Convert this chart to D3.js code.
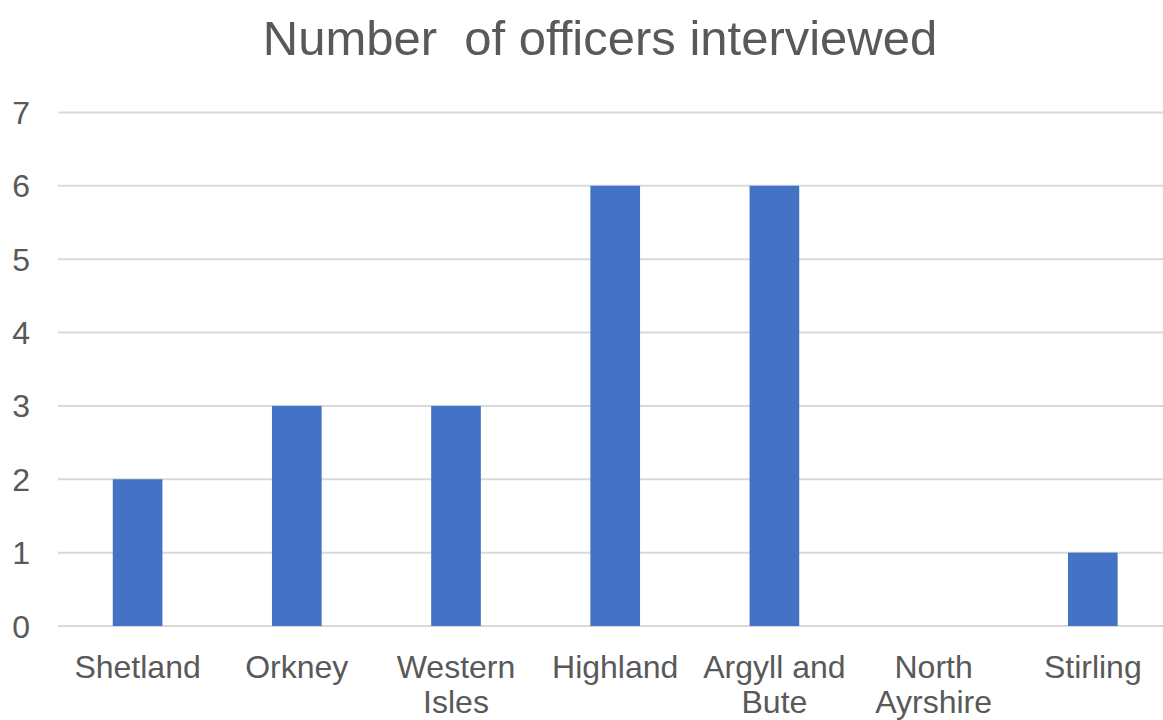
<!DOCTYPE html>
<html>
<head>
<meta charset="utf-8">
<script src="https://cdn.jsdelivr.net/npm/d3@7"></script>
<style>
  html, body { margin: 0; padding: 0; background: #fff; overflow: hidden; }
  svg { display: block; font-family: "Liberation Sans", Arial, sans-serif; }
</style>
</head>
<body>
<svg id="chart" width="1163" height="720"></svg>
<script>
// Officers interviewed per council area
const categories = ["Shetland", "Orkney", "Western Isles", "Highland", "Argyll and Bute", "North Ayrshire", "Stirling"];
const officers = [2, 3, 3, 6, 6, 0, 1];
const yTicks = [0, 1, 2, 3, 4, 5, 6, 7];
const chartTitle = "Number  of officers interviewed";

const svg = d3.select("#chart");
const textColor = "#595959";

const plot = { left: 58, right: 1172.4, top: 112.4, bottom: 626 };

const x = d3.scaleBand()
  .domain(categories)
  .range([plot.left, plot.right])
  .paddingInner(0.688)
  .paddingOuter(0.344);

const y = d3.scaleLinear()
  .domain([0, 7])
  .range([plot.bottom, plot.top]);

// Horizontal gridlines
svg.append("g")
  .selectAll("line")
  .data(yTicks)
  .join("line")
  .attr("x1", plot.left)
  .attr("x2", plot.right)
  .attr("y1", d => y(d))
  .attr("y2", d => y(d))
  .attr("stroke", "#d9d9d9")
  .attr("stroke-width", 2);

// Y tick labels
svg.append("g")
  .selectAll("text")
  .data(yTicks)
  .join("text")
  .attr("x", 30)
  .attr("y", d => y(d) + 11.5)
  .attr("text-anchor", "end")
  .attr("font-size", 32)
  .attr("fill", textColor)
  .text(d => d);

// Bars
svg.append("g")
  .selectAll("rect")
  .data(categories)
  .join("rect")
  .attr("x", d => x(d))
  .attr("width", x.bandwidth())
  .attr("y", (d, i) => y(officers[i]))
  .attr("height", (d, i) => y(0) - y(officers[i]))
  .attr("fill", "#4472c4");

// Category labels, wrapped to fit each band
const maxLabelWidth = x.step() - 8;
const labels = svg.append("g")
  .selectAll("text")
  .data(categories)
  .join("text")
  .attr("x", d => x(d) + x.bandwidth() / 2)
  .attr("y", 678)
  .attr("text-anchor", "middle")
  .attr("font-size", 32)
  .attr("fill", textColor);

labels.each(function(d) {
  const text = d3.select(this);
  const words = d.split(" ");
  const cx = text.attr("x");
  let line = [];
  let tspan = text.append("tspan").attr("x", cx).attr("dy", 0);
  words.forEach(w => {
    line.push(w);
    tspan.text(line.join(" "));
    if (tspan.node().getComputedTextLength() > maxLabelWidth && line.length > 1) {
      line.pop();
      tspan.text(line.join(" "));
      line = [w];
      tspan = text.append("tspan").attr("x", cx).attr("dy", 34.5).text(w);
    }
  });
});

// Title
svg.append("text")
  .attr("x", 600)
  .attr("y", 55)
  .attr("text-anchor", "middle")
  .attr("font-size", 49)
  .attr("fill", textColor)
  .attr("xml:space", "preserve")
  .style("white-space", "pre")
  .text(chartTitle);
</script>
</body>
</html>
